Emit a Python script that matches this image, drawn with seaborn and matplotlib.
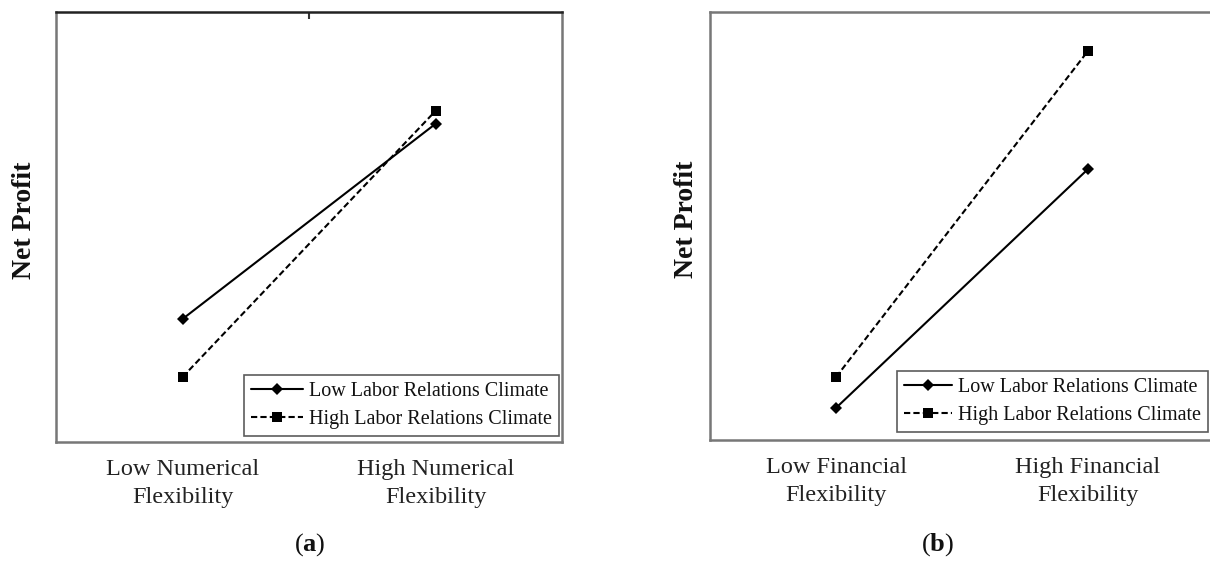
import matplotlib
matplotlib.use("Agg")
import matplotlib.pyplot as plt
import seaborn as sns
import pandas as pd

# ---- data (arbitrary units, 0-10 scale) ----
levels = [0, 1]
labels_a = ["Low Numerical\nFlexibility", "High Numerical\nFlexibility"]
labels_b = ["Low Financial\nFlexibility", "High Financial\nFlexibility"]
series = ["Low Labor Relations Climate", "High Labor Relations Climate"]
a_low_climate = [2.86, 7.40]
a_high_climate = [1.51, 7.70]
b_low_climate = [0.75, 6.33]
b_high_climate = [1.47, 9.09]

sns.set_theme(style="white")
plt.rcParams["font.family"] = ["Liberation Serif", "DejaVu Serif"]
plt.rcParams["mathtext.fontset"] = "custom"
plt.rcParams["mathtext.rm"] = "Liberation Serif"
plt.rcParams["mathtext.bf"] = "Liberation Serif:bold"
plt.rcParams["text.color"] = "#111111"
plt.rcParams["axes.labelcolor"] = "#111111"
plt.rcParams["xtick.color"] = "#111111"
plt.rcParams["xtick.labelcolor"] = "#222222"

W, H = 1210, 566
fig = plt.figure(figsize=(12.10, 5.66), dpi=100)
ax_a = fig.add_axes([0.0463, 0.2191, 0.4182, 0.7597])
ax_b = fig.add_axes([0.5868, 0.2226, 0.4165, 0.7562])


def make_df(low, high):
    return pd.DataFrame({
        "x": levels + levels,
        "y": low + high,
        "climate": [series[0]] * 2 + [series[1]] * 2,
    })


def draw(ax, low, high, xlabels, leg_anchor, labelpad, handlelen):
    df = make_df(low, high)
    sns.lineplot(data=df, x="x", y="y", hue="climate", style="climate",
                 palette={series[0]: "black", series[1]: "black"},
                 markers={series[0]: "D", series[1]: "s"},
                 dashes={series[0]: "", series[1]: (3, 1.5)},
                 markersize=7, linewidth=1.5, markeredgewidth=0,
                 ax=ax, legend=False)
    for ln, ms in zip(ax.get_lines(), [6.5, 7.5]):
        ln.set_markersize(ms)
    ax.set_xlim(-0.5, 1.5)
    ax.set_ylim(0, 10)
    ax.set_xticks(levels)
    ax.set_xticklabels(xlabels, fontsize=17.5, linespacing=1.45)
    ax.set_yticks([])
    ax.tick_params(axis="x", length=0, pad=12)
    ax.set_xlabel("")
    ax.set_ylabel("Net Profit", fontsize=20, fontweight="bold", labelpad=labelpad)
    ax.yaxis.label.set_y(0.515)
    for sp in ax.spines.values():
        sp.set_color("#777777")
        sp.set_linewidth(1.8)
    h = ax.get_lines()
    leg = ax.legend(h[:2], series, loc="lower right",
                    bbox_to_anchor=(leg_anchor[0] / W, 1 - leg_anchor[1] / H),
                    bbox_transform=fig.transFigure, fontsize=14.5,
                    frameon=True, fancybox=False, edgecolor="#333333",
                    handlelength=handlelen, handletextpad=0.3, borderpad=0.35,
                    labelspacing=0.45, borderaxespad=0.0)
    leg.get_frame().set_linewidth(1.2)
    return ax


draw(ax_a, a_low_climate, a_high_climate, labels_a, (559, 436), 14, 2.6)
draw(ax_b, b_low_climate, b_high_climate, labels_b, (1208, 432), 8, 2.4)

# small tick mark at the top of panel (a)
ax_a.set_xticks([0.5], minor=True)
ax_a.tick_params(axis="x", which="minor", top=True, bottom=False,
                 direction="in", length=5, width=1.5, color="#333333")
ax_a.spines["top"].set_color("#222222")

fig.text(310 / W, 1 - 545 / H, r"($\mathbf{a}$)", ha="center", va="center", fontsize=19)
fig.text(938 / W, 1 - 545 / H, r"($\mathbf{b}$)", ha="center", va="center", fontsize=19)

fig.savefig("out.png", dpi=100)
